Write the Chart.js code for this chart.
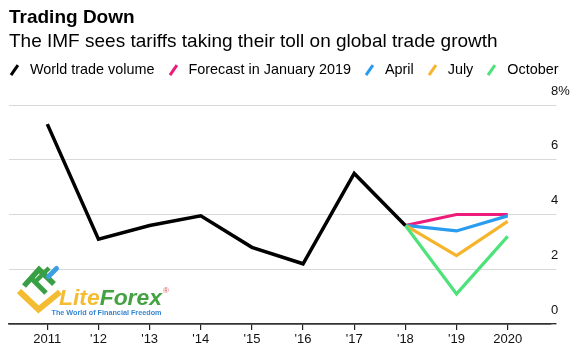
<!DOCTYPE html>
<html>
<head>
<meta charset="utf-8">
<script src="https://cdn.jsdelivr.net/npm/chart.js@4/dist/chart.umd.min.js"></script>
<style>
  html, body { margin:0; padding:0; background:#fff; }
  body { width:580px; height:361px; position:relative; overflow:hidden; font-family:"Liberation Sans", Arial, sans-serif; color:#000; }
  #chart { position:absolute; left:0; top:0; }
  .title { position:absolute; left:9px; top:6px; font-size:19px; font-weight:bold; line-height:22px; white-space:nowrap; }
  .subtitle { position:absolute; left:9px; top:30px; font-size:19px; line-height:22px; white-space:nowrap; }
  #legend { position:absolute; left:10px; top:61px; display:flex; align-items:center; font-size:14.4px; line-height:17px; white-space:nowrap; }
  .item { display:flex; align-items:center; margin-right:14px; }
  .sw { position:relative; width:8px; height:12px; margin-right:12px; }
  .sw i { position:absolute; left:3px; top:0; width:2.6px; height:12px; transform:rotate(35deg); }
  #logo { position:absolute; left:0; top:0; pointer-events:none; }
</style>
</head>
<body>
<canvas id="chart" width="580" height="361"></canvas>
<div class="title">Trading Down</div>
<div class="subtitle">The IMF sees tariffs taking their toll on global trade growth</div>
<div id="legend"></div>
<svg id="logo" width="580" height="361" viewBox="0 0 580 361">
  <g opacity="0.95">
    <polyline points="19,291 38.5,309.5 60,292" fill="none" stroke="#f4b928" stroke-width="6" stroke-linejoin="miter"/>
    <polyline points="24,286 39,269.5 54,284" fill="none" stroke="#2f9a3a" stroke-width="5.5"/>
    <line x1="32" y1="279" x2="46" y2="293" stroke="#2f9a3a" stroke-width="5"/>
    <line x1="34" y1="283" x2="49" y2="268" stroke="#2f9a3a" stroke-width="4.5"/>
    <line x1="48.5" y1="276.5" x2="56.5" y2="268.5" stroke="#3399e0" stroke-width="5" stroke-linecap="round"/>
    <text x="59" y="305" font-family="Liberation Sans, Arial, sans-serif" font-weight="bold" font-style="italic" font-size="22" textLength="103" lengthAdjust="spacingAndGlyphs"><tspan fill="#f4b928">Lite</tspan><tspan fill="#3a9d38">Forex</tspan></text>
    <text x="163" y="293" font-family="Liberation Sans, Arial, sans-serif" font-size="8" fill="#e04a50">®</text>
    <text x="51.5" y="314.5" font-family="Liberation Sans, Arial, sans-serif" font-weight="bold" font-size="7.5" fill="#2a7fd0" textLength="110" lengthAdjust="spacingAndGlyphs">The World of Financial Freedom</text>
  </g>
</svg>
<script>
// ---- data ----
const years = [2011, 2012, 2013, 2014, 2015, 2016, 2017, 2018, 2019, 2020];
const tickLabels = ['2011', "'12", "'13", "'14", "'15", "'16", "'17", "'18", "'19", '2020'];
const worldTrade = [7.3, 3.1, 3.6, 3.95, 2.8, 2.2, 5.5, 3.6, null, null];
const forecastJan = [null, null, null, null, null, null, null, 3.6, 4.0, 4.0];
const forecastApr = [null, null, null, null, null, null, null, 3.6, 3.4, 3.95];
const forecastJul = [null, null, null, null, null, null, null, 3.6, 2.5, 3.75];
const forecastOct = [null, null, null, null, null, null, null, 3.6, 1.1, 3.2];
const seriesNames = ['World trade volume', 'Forecast in January 2019', 'April', 'July', 'October'];
const seriesColors = ['#000000', '#ec1c7d', '#2a9cf0', '#f6b42b', '#4de27a'];
const yTicks = [0, 2, 4, 6, 8];

const seriesValues = [worldTrade, forecastJan, forecastApr, forecastJul, forecastOct];
const toPoints = vals => years.map((yr, i) => ({ x: yr, y: vals[i] })).filter(p => p.y !== null);

// legend (HTML)
const legendEl = document.getElementById('legend');
seriesNames.forEach((name, i) => {
  const it = document.createElement('div');
  it.className = 'item';
  const sw = document.createElement('span');
  sw.className = 'sw';
  const bar = document.createElement('i');
  bar.style.background = seriesColors[i];
  sw.appendChild(bar);
  const tx = document.createElement('span');
  tx.textContent = name;
  it.appendChild(sw); it.appendChild(tx);
  legendEl.appendChild(it);
});

const datasets = seriesValues.map((vals, i) => ({
  label: seriesNames[i],
  data: toPoints(vals),
  borderColor: seriesColors[i],
  backgroundColor: seriesColors[i],
  borderWidth: i === 0 ? 3.5 : 3.2,
  pointRadius: 0,
  tension: 0,
  borderJoinStyle: 'miter',
  borderCapStyle: 'butt',
  order: i === 0 ? 0 : 5 - i
}));

new Chart(document.getElementById('chart'), {
  type: 'line',
  data: { datasets },
  options: {
    responsive: false,
    animation: false,
    devicePixelRatio: 1,
    layout: { padding: { left: 9, top: 105, right: 0, bottom: 0 } },
    plugins: { legend: { display: false }, tooltip: { enabled: false }, title: { display: false } },
    scales: {
      x: {
        type: 'linear',
        min: 2010.251,
        max: 2020.847,
        afterBuildTicks: s => { s.ticks = years.map(v => ({ value: v })); },
        afterFit: s => { s.height = 37; },
        grid: { drawOnChartArea: false, drawTicks: true, tickLength: 6, color: '#222', lineWidth: 1.2 },
        border: { display: true, color: '#333', width: 1.4 },
        ticks: {
          autoSkip: false, maxRotation: 0, padding: 2,
          color: '#111',
          font: { family: 'Liberation Sans, Arial, sans-serif', size: 13 },
          callback: v => { const k = years.indexOf(v); return k >= 0 ? tickLabels[k] : ''; }
        }
      },
      y: {
        position: 'right',
        min: 0, max: 8,
        afterBuildTicks: s => { s.ticks = yTicks.map(v => ({ value: v })); },
        afterFit: s => { s.width = 29; },
        grid: {
          drawTicks: true, tickLength: 5.5,
          color: c => (c.tick && c.tick.value === 0) ? '#333' : '#d9d9d9',
          lineWidth: c => (c.tick && c.tick.value === 0) ? 1.4 : 1
        },
        border: { display: false },
        ticks: {
          padding: -5.5, labelOffset: -14,
          color: '#111',
          font: { family: 'Liberation Sans, Arial, sans-serif', size: 13 },
          callback: v => v === 8 ? '8%' : String(v)
        }
      }
    }
  }
});
</script>
</body>
</html>
